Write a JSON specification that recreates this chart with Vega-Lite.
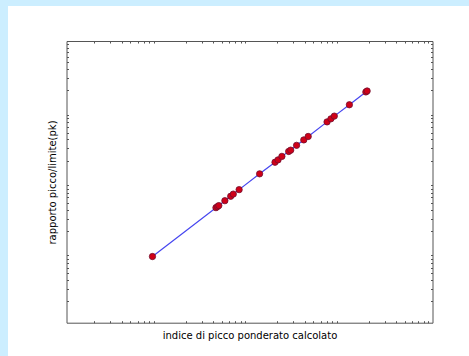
{
  "$schema": "https://vega.github.io/schema/vega-lite/v6.json",
  "width": 461,
  "height": 350,
  "autosize": {"type": "none"},
  "padding": {"left": 8, "top": 6, "right": 0, "bottom": 0},
  "background": "#cceeff",
  "config": {
    "view": {"fill": "white", "stroke": null},
    "font": "DejaVu Sans",
    "axis": {
      "labels": false,
      "grid": false,
      "domainColor": "#555555",
      "domainWidth": 1,
      "tickColor": "#555555",
      "tickSize": -2,
      "tickWidth": 1,
      "titleFont": "DejaVu Sans",
      "titleFontSize": 10,
      "titleFontWeight": "normal",
      "titleColor": "#000000"
    }
  },
  "data": {
    "values": [
      {"x": 0.87, "y": 0.87},
      {"x": 4.3, "y": 4.3},
      {"x": 4.47, "y": 4.45},
      {"x": 4.62, "y": 4.6},
      {"x": 5.38, "y": 5.4},
      {"x": 6.23, "y": 6.24},
      {"x": 6.65, "y": 6.7},
      {"x": 7.7, "y": 7.75},
      {"x": 12.9, "y": 13.0},
      {"x": 19.0, "y": 19.0},
      {"x": 20.5, "y": 20.5},
      {"x": 22.6, "y": 23.0},
      {"x": 26.8, "y": 27.0},
      {"x": 28.2, "y": 28.2},
      {"x": 32.7, "y": 33.0},
      {"x": 39.2, "y": 39.4},
      {"x": 43.8, "y": 44.1},
      {"x": 70.4, "y": 71.0},
      {"x": 77.6, "y": 78.5},
      {"x": 84.5, "y": 85.8},
      {"x": 123.5, "y": 124.3},
      {"x": 187, "y": 189},
      {"x": 193, "y": 195}
    ]
  },
  "layer": [
    {
      "mark": {"type": "line", "color": "#4646f0", "strokeWidth": 1.2},
      "encoding": {
        "x": {
          "field": "x",
          "type": "quantitative",
          "scale": {"type": "log", "domain": [0.1, 1000], "range": [58.5, 424.5], "nice": false},
          "axis": {
            "orient": "bottom",
            "offset": -33.3,
            "title": "indice di picco ponderato calcolato",
            "titleBaseline": "middle",
            "titleY": 13,
            "values": [0.2,0.3,0.4,0.5,0.6,0.7,0.8,0.9,2,3,4,5,6,7,8,9,20,30,40,50,60,70,80,90,200,300,400,500,600,700,800,900]
          }
        },
        "y": {
          "field": "y",
          "type": "quantitative",
          "scale": {"type": "log", "domain": [0.1, 1000], "range": [316.7, 35], "nice": false},
          "axis": {
            "orient": "left",
            "offset": -58.5,
            "title": "rapporto picco/limite(pk)",
            "titleAngle": -90,
            "titleBaseline": "middle",
            "titleAlign": "center",
            "titleX": -14,
            "titleY": 176,
            "values": [0.2,0.3,0.4,0.5,0.6,0.7,0.8,0.9,2,3,4,5,6,7,8,9,20,30,40,50,60,70,80,90,200,300,400,500,600,700,800,900]
          }
        }
      }
    },
    {
      "mark": {"type": "point", "shape": "circle", "filled": true, "fill": "#d00018", "stroke": "#701030", "strokeWidth": 0.8, "size": 40, "opacity": 1},
      "encoding": {
        "x": {
          "field": "x",
          "type": "quantitative",
          "axis": {
            "orient": "top",
            "offset": -35,
            "title": null,
            "values": [0.2,0.3,0.4,0.5,0.6,0.7,0.8,0.9,2,3,4,5,6,7,8,9,20,30,40,50,60,70,80,90,200,300,400,500,600,700,800,900]
          }
        },
        "y": {
          "field": "y",
          "type": "quantitative",
          "axis": {
            "orient": "right",
            "offset": -36.5,
            "title": null,
            "values": [0.2,0.3,0.4,0.5,0.6,0.7,0.8,0.9,2,3,4,5,6,7,8,9,20,30,40,50,60,70,80,90,200,300,400,500,600,700,800,900]
          }
        }
      }
    }
  ],
  "resolve": {"axis": {"x": "independent", "y": "independent"}}
}
